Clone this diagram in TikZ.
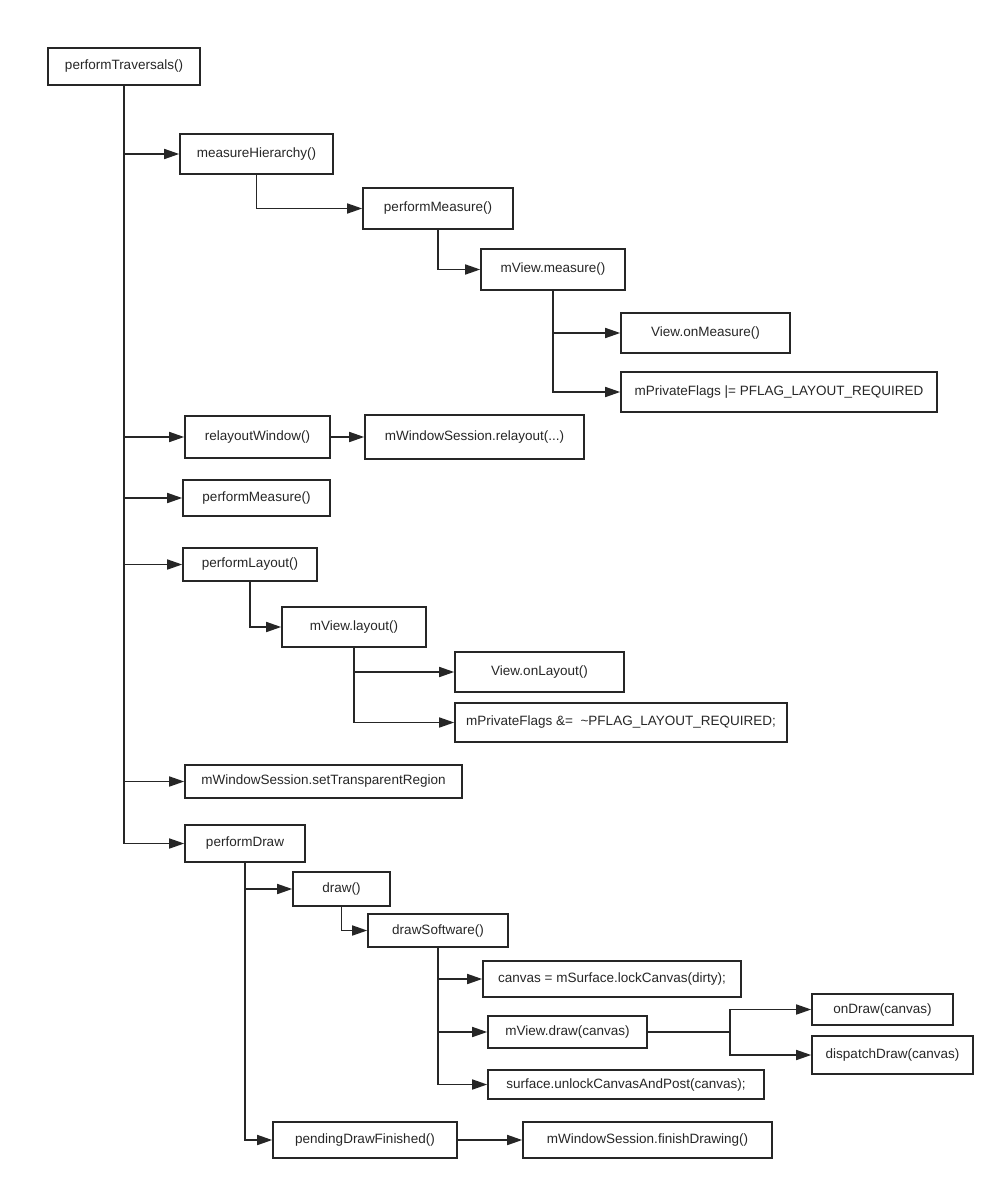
\documentclass[tikz,border=0pt]{standalone}
\usepackage{fontspec}
\setmainfont{Liberation Sans}
\usetikzlibrary{arrows.meta,positioning}

\begin{document}
\begin{tikzpicture}[
  x=1pt, y=-1pt,
  font=\fontsize{13.5}{16}\selectfont,
  every node/.style={text=black!85},
  box/.style={draw=black!85, line width=1.6pt, inner sep=0pt, align=center},
  arrow/.style={-{Triangle[length=15pt, width=10pt]}, draw=black!85, line width=1.6pt}
]
\useasboundingbox (0,0) rectangle (1005,1190);

\node[box, minimum width=152, minimum height=37] (trav) at (124,66.5) {performTraversals()};

\node[box, minimum width=153, minimum height=40] (mh) at (256.5,154) {measureHierarchy()};
\node[box, minimum width=150, minimum height=41] (pm1) at (438,208.5) {performMeasure()};
\node[box, minimum width=144, minimum height=41] (vm) at (553,269.5) {mView.measure()};
\node[box, minimum width=169, minimum height=40] (onm) at (705.5,333) {View.onMeasure()};
\node[box, minimum width=316, minimum height=40] (pf1) at (779,392) {mPrivateFlags |= PFLAG\_LAYOUT\_REQUIRED};

\node[box, minimum width=145, minimum height=42] (rw) at (257.5,437) {relayoutWindow()};
\node[box, minimum width=219, minimum height=44] (rl) at (474.5,437) {mWindowSession.relayout(...)};
\node[box, minimum width=147, minimum height=36] (pm2) at (256.5,498) {performMeasure()};

\node[box, minimum width=134, minimum height=33] (pl) at (250,564.5) {performLayout()};
\node[box, minimum width=144, minimum height=40] (vl) at (354,627) {mView.layout()};
\node[box, minimum width=169, minimum height=40] (onl) at (539.5,672) {View.onLayout()};
\node[box, minimum width=332, minimum height=39] (pf2) at (621,722.5) {mPrivateFlags \&=\ \ \textasciitilde PFLAG\_LAYOUT\_REQUIRED;};

\node[box, minimum width=277, minimum height=33] (str) at (323.5,781.5) {mWindowSession.setTransparentRegion};

\node[box, minimum width=120, minimum height=37] (pd) at (245,843.5) {performDraw};
\node[box, minimum width=97, minimum height=34] (dr) at (341.5,889) {draw()};
\node[box, minimum width=140, minimum height=33] (ds) at (438,930.5) {drawSoftware()};
\node[box, minimum width=258, minimum height=36] (lc) at (612,979) {canvas = mSurface.lockCanvas(dirty);};
\node[box, minimum width=159, minimum height=32] (vd) at (567.5,1032) {mView.draw(canvas)};
\node[box, minimum width=276, minimum height=29] (ul) at (626,1084.5) {surface.unlockCanvasAndPost(canvas);};
\node[box, minimum width=141, minimum height=31] (od) at (882.5,1009.5) {onDraw(canvas)};
\node[box, minimum width=161, minimum height=38] (dd) at (892.5,1055) {dispatchDraw(canvas)};
\node[box, minimum width=184, minimum height=36] (pdf) at (365,1140) {pendingDrawFinished()};
\node[box, minimum width=249, minimum height=36] (fd) at (647.5,1140) {mWindowSession.finishDrawing()};

\foreach \n in {mh,rw,pm2,pl,str,pd}
  \draw[arrow] (trav.south) |- (\n.west);

\draw[arrow] (mh.south) |- (pm1.west);
\draw[arrow] (pm1.south) |- (vm.west);
\foreach \n in {onm,pf1}
  \draw[arrow] (vm.south) |- (\n.west);

\draw[arrow] (rw.east) -- (rl.west);

\draw[arrow] (pl.south) |- (vl.west);
\foreach \n in {onl,pf2}
  \draw[arrow] (vl.south) |- (\n.west);

\foreach \n in {dr,pdf}
  \draw[arrow] (pd.south) |- (\n.west);
\draw[arrow] (dr.south) |- (ds.west);
\foreach \n in {lc,vd,ul}
  \draw[arrow] (ds.south) |- (\n.west);

\coordinate (split) at (730,1032);
\draw[draw=black!85, line width=1.6pt] (vd.east) -- (split);
\foreach \n in {od,dd}
  \draw[arrow] (split) |- (\n.west);

\draw[arrow] (pdf.east) -- (fd.west);

\end{tikzpicture}
\end{document}
